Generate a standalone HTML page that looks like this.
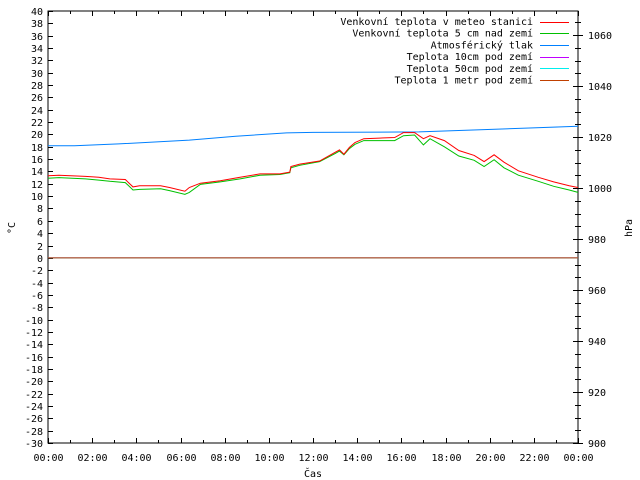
<!DOCTYPE html>
<html><head><meta charset="utf-8"><style>
html,body{margin:0;padding:0;background:#fff;}
svg{display:block;font-family:"DejaVu Sans Mono","Liberation Mono",monospace;font-size:10px;}
</style></head><body>
<svg id="chart" width="640" height="480" viewBox="0 0 640 480" xmlns="http://www.w3.org/2000/svg">
<rect x="0" y="0" width="640" height="480" fill="#fff"/>
<g id="axes"></g>
<g id="series"></g>
<g id="legend"></g>
<text transform="translate(15,228) rotate(-90)" text-anchor="middle">°C</text>
<text transform="translate(632,228) rotate(-90)" text-anchor="middle">hPa</text>
<text x="313" y="477" text-anchor="middle">Čas</text>
</svg>
<script>
const tempHours = [0,0.5,1.7,2.3,2.8,3.5,3.85,4.15,5.1,5.5,6.2,6.4,6.9,7.8,8.7,9.6,10.5,10.95,11.0,11.4,12.3,13.0,13.2,13.4,13.65,13.9,14.3,15.0,15.7,16.1,16.6,17.0,17.3,17.95,18.6,19.3,19.75,20.2,20.65,21.3,22.2,22.9,23.6,24];
const tempStation = [13.3,13.4,13.2,13.05,12.8,12.7,11.5,11.7,11.7,11.4,10.8,11.4,12.1,12.5,13.05,13.6,13.6,13.9,14.8,15.2,15.7,17.1,17.5,16.8,17.9,18.7,19.3,19.4,19.5,20.3,20.3,19.3,19.8,19.0,17.4,16.6,15.6,16.7,15.5,14.1,13.05,12.3,11.7,11.4];
const temp5cm = [12.9,13.0,12.8,12.6,12.4,12.2,11.0,11.1,11.2,10.9,10.3,10.6,11.9,12.3,12.8,13.4,13.5,13.8,14.6,15.0,15.6,16.9,17.3,16.7,17.7,18.4,19.0,19.0,19.0,19.8,19.9,18.3,19.3,18.0,16.5,15.8,14.8,15.9,14.6,13.4,12.4,11.6,11.0,10.6];
const pressHours = [0,1.2,3.2,6.4,8.5,10.8,12,16.8,20.4,24];
const pressure = [1016.6,1016.6,1017.3,1018.8,1020.3,1021.6,1021.8,1022.0,1023.1,1024.2];
const groundHours = [0,24];
const temp10cm = [0,0];
const temp50cm = [0,0];
const temp1m = [0,0];
const xTickLabels = ["00:00","02:00","04:00","06:00","08:00","10:00","12:00","14:00","16:00","18:00","20:00","22:00","00:00"];
const legendLabels = ["Venkovní teplota v meteo stanici","Venkovní teplota 5 cm nad zemí","Atmosférický tlak","Teplota 10cm pod zemí","Teplota 50cm pod zemí","Teplota 1 metr pod zemí"];

const L=48,R=578,T=11,B=443;
const X=h=>L+(R-L)*h/24;
const Y=t=>B-(B-T)*(t+30)/70;
const Y2=p=>B-(p-900)*2.55;
const NS="http://www.w3.org/2000/svg";
function mk(tag,attrs,parent){const e=document.createElementNS(NS,tag);for(const k in attrs)e.setAttribute(k,attrs[k]);parent.appendChild(e);return e;}
const axes=document.getElementById('axes');
const series=document.getElementById('series');
const legend=document.getElementById('legend');

let frame=mk('rect',{x:L,y:T,width:R-L,height:B-T,fill:'none',stroke:'#000','stroke-width':1},axes);


// left ticks
for(let v=-30;v<=40;v+=2){
  const y=Math.round(Y(v))+0.5;
  let t=mk('line',{x1:L,x2:L+5,y1:y,y2:y,stroke:'#000'},axes);
  
  
  let lb=mk('text',{x:L-5,y:y+3.5,'text-anchor':'end'},axes);
  lb.textContent=v;
  
  
}
// right ticks
for(let p=900;p<=1065;p+=5){
  const y=Math.round(Y2(p))+0.5;
  const major=p%20===0;
  let t=mk('line',{x1:R-(major?5:3),x2:R+(major?5:3),y1:y,y2:y,stroke:'#000'},axes);
  
  
  if(major){
    let lb=mk('text',{x:R+10,y:y+3.5,'text-anchor':'start'},axes);
    lb.textContent=p;
    
    
  }
}
// x ticks
for(let h=0;h<=24;h++){
  const x=Math.round(X(h))+0.5;
  const major=h%2===0;
  const len=major?5:3;
  let t=mk('line',{x1:x,x2:x,y1:B,y2:B-len,stroke:'#000'},axes);
  
  
  let t2=mk('line',{x1:x,x2:x,y1:T,y2:T+len,stroke:'#000'},axes);
  
  
  if(major){
    let lb=mk('text',{x:x,y:B+18,'text-anchor':'middle'},axes);
    lb.textContent=xTickLabels[h/2];
    
    
  }
}
function line(xs,ys,yf,color,name){
  const d=xs.map((h,i)=>(i?'L':'M')+X(h).toFixed(1)+','+yf(ys[i]).toFixed(1)).join('');
  let p=mk('path',{d:d,fill:'none',stroke:color,'stroke-width':1},series);
  
  
}
line(pressHours,pressure,Y2,'#0080ff','pressure-line');
line(tempHours,temp5cm,Y,'#00c000','temp-5cm-line');
line(tempHours,tempStation,Y,'#ff0000','temp-station-line');
line(groundHours,temp10cm,Y,'#c000ff','temp-10cm-line');
line(groundHours,temp50cm,Y,'#00eeee','temp-50cm-line');
line(groundHours,temp1m,Y,'#c04000','temp-1m-line');

const colors=['#ff0000','#00c000','#0080ff','#c000ff','#00eeee','#c04000'];
legendLabels.forEach((s,i)=>{
  const y=21.5+i*11.7;
  let g=mk('g',{},legend);
  
  
  let tx=mk('text',{x:533,y:y+3.5,'text-anchor':'end'},g);
  tx.textContent=s;
  mk('line',{x1:540,x2:569,y1:Math.round(y)+0.5,y2:Math.round(y)+0.5,stroke:colors[i]},g);
});
</script>
</body></html>
